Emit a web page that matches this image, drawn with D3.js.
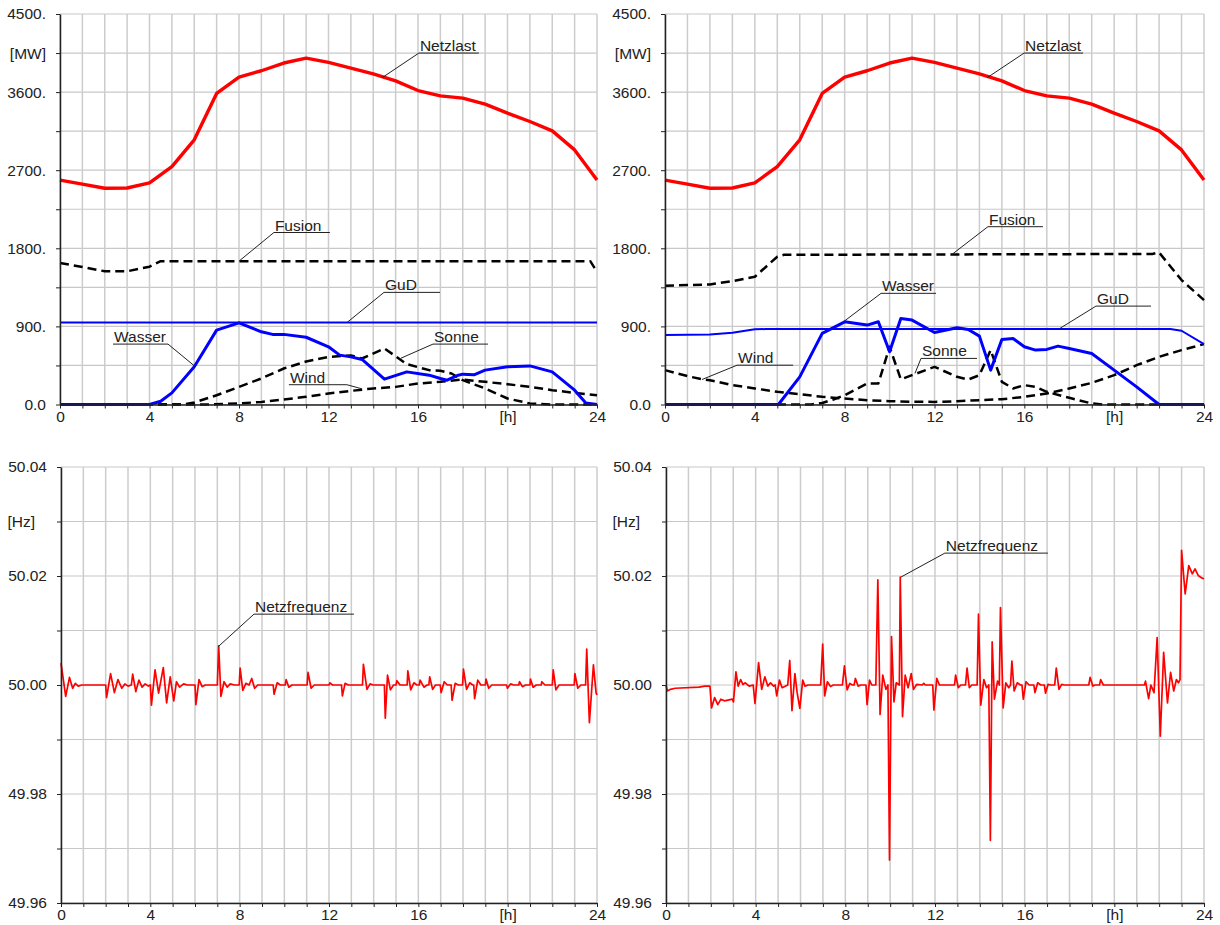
<!DOCTYPE html>
<html>
<head>
<meta charset="utf-8">
<script src="https://cdn.jsdelivr.net/npm/d3@7"></script>
<style>
  body { margin: 0; background: #fff; }
  svg { font-family: "Liberation Sans", Arial, sans-serif; }
</style>
</head>
<body>
<svg id="chart" width="1220" height="925"></svg>
<script>
// ---- data ----
const hours = d3.range(0, 25);
const netzlast = [2585, 2540, 2492, 2495, 2553, 2742, 3050, 3585, 3773, 3846, 3935, 3992, 3942,
                  3877, 3811, 3730, 3618, 3557, 3531, 3461, 3357, 3261, 3153, 2934, 2588];

// left scenario [hour, MW]
const fusionL = [[0,1630],[1,1585],[2,1535],[3,1535],[4,1588],[4.5,1652],[23.7,1652],[24,1530]];
const gudL = [[0,945],[24,945]];
const wasserL = [[0,0],[4,0],[4.5,38],[5,134],[6,434],[7,857],[8,941],[9,838],[9.5,808],[10,808],
  [11,775],[12,665],[12.5,569],[13,549],[13.5,519],[14.5,292],[15.5,376],[16.5,338],[17,300],
  [17.3,280],[17.8,338],[18,350],[18.5,342],[19,396],[20,434],[21,445],[22,376],[23,165],[23.5,18],[24,0]];
const sonneL = [[0,0],[5.5,0],[6,23],[7,107],[8,203],[9,300],[10,415],[11,495],[12,549],[13,565],
  [13.5,530],[14.5,646],[15.5,465],[16.5,396],[17,388],[17.5,357],[18,280],[19,185],[20,69],[21,12],[22,0],[24,0]];
const windL = [[0,0],[6.5,0],[8,12],[9,30],[10,58],[11,88],[12,127],[13,157],[14,185],[15,203],
  [16,242],[17,261],[18,288],[19,261],[20,234],[21,203],[22,165],[23,134],[24,107]];

// right scenario [hour, MW]
const fusionR = [[0,1368],[1,1376],[2,1384],[3,1422],[4,1472],[4.5,1588],[5,1703],[5.3,1725],
  [21.7,1735],[22,1752],[23,1434],[24,1203]];
const gudR = [[0,800],[2,808],[3,826],[4,866],[4.5,870],[22.5,870],[23,850],[24,696]];
const wasserR = [[0,0],[5.05,0],[6,319],[7,819],[8,953],[9,915],[9.5,953],[10,607],[10.5,992],[11,973],
  [12,830],[13,884],[13.5,865],[14,788],[14.5,396],[15,750],[15.5,761],[16,665],[16.5,627],[17,635],
  [17.5,673],[18,646],[19,588],[20,396],[21,203],[22,0],[24,0]];
const sonneR = [[0,0],[6.5,0],[7,18],[7.5,58],[8,107],[9,242],[9.5,242],[10,665],[10.5,290],[11,338],
  [12,434],[13,319],[13.5,288],[14,338],[14.5,627],[15,261],[15.5,185],[16,223],[16.5,203],[17,146],
  [18,77],[19,12],[19.5,0],[24,0]];
const windR = [[0,396],[1,327],[1.7,288],[2,280],[3,223],[4,185],[5,146],[6,119],[7,88],[8,69],[9,50],
  [10,38],[11,32],[12,30],[13,38],[14,50],[15,61],[16,88],[17,127],[18,185],[19,249],[20,338],
  [21,453],[22,549],[23,627],[24,696]];

// grid frequency [hour, Hz]
const freqL = [[0,50.0040],[0.21,49.9979],[0.38,50.0014],[0.52,49.9994],[0.64,50.0003],[0.77,49.9998],[0.94,50],
  [2.0,50],[2.04,49.9977],[2.22,50.0021],[2.39,49.9986],[2.55,50.0010],[2.72,49.9994],[2.86,50.0002],[3.0,49.9998],
  [3.15,50],[3.21,50.0020],[3.35,49.9988],[3.49,50.0009],[3.63,49.9996],[3.77,50.0002],[3.91,49.9998],
  [4.0,50],[4.05,49.9963],[4.21,50.0028],[4.37,49.9985],[4.58,50.0032],[4.73,49.9967],[4.89,50.0015],
  [5.05,49.9971],[5.17,50.0006],[5.31,49.9996],[5.49,50.0002],[5.66,50],
  [6.0,50],[6.04,49.9964],[6.18,50.0010],[6.32,49.9997],[6.46,50],
  [7.0,50],[7.06,50.0072],[7.16,49.9979],[7.30,50.0006],[7.44,49.9996],[7.58,50.0002],[7.76,50],
  [7.98,50],[8.02,50.0031],[8.14,49.9990],[8.28,50.0003],[8.42,50],[8.54,50.0012],[8.67,49.9994],[8.81,50],
  [9.5,50],[9.54,49.9983],[9.68,50.0004],[9.82,50],
  [10.04,50],[10.08,50.0010],[10.2,49.9996],[10.34,50],
  [11.02,50],[11.06,50.0023],[11.2,49.9994],[11.34,50],
  [12.0,50],[12.04,50.0004],[12.16,50],
  [12.56,50],[12.6,49.9980],[12.72,50.0003],[12.86,50],
  [13.5,50],[13.54,50.0038],[13.7,49.9992],[13.84,50.0002],[13.98,50],
  [14.48,50],[14.52,49.9939],[14.62,50.0018],[14.75,49.9991],[14.89,50],
  [15.0,50],[15.04,50.0008],[15.18,50],
  [15.5,50],[15.53,50.0026],[15.66,49.9991],[15.8,50.0004],[15.94,50],
  [16.04,50],[16.08,50.0009],[16.25,49.9996],[16.39,50],
  [16.47,50],[16.51,50.0015],[16.64,49.9992],[16.77,50],
  [16.98,50],[17.02,49.9986],[17.16,50.0006],[17.3,50],
  [17.47,50],[17.51,49.9972],[17.65,50.0003],[17.79,50],
  [17.98,50],[18.02,50.0029],[18.16,49.9992],[18.3,50.0004],[18.44,50],
  [18.48,50],[18.52,49.9975],[18.66,50.0009],[18.8,50],
  [19.0,50],[19.03,50.0011],[19.15,49.9994],[19.29,50],
  [19.95,50],[19.99,49.9994],[20.13,50.0002],[20.27,50],
  [20.5,50],[20.53,50.0006],[20.66,49.9997],[20.8,50],
  [21.0,50],[21.02,50.0011],[21.14,49.9996],[21.28,50],
  [21.5,50],[21.53,50.0006],[21.67,50],
  [22.0,50],[22.04,50.0028],[22.16,49.9991],[22.3,50],
  [22.98,50],[23.01,50.0021],[23.14,49.9994],[23.28,50],[23.49,50],
  [23.54,50.0066],[23.66,49.9931],[23.84,50.0037],[23.96,49.9985],[24,49.9982]];

const freqR = [[0,50],[0.06,49.9989],[0.2,49.9992],[0.41,49.9994],[1.47,49.9996],[1.73,49.9998],[1.96,49.9998],
  [2.03,49.9958],[2.17,49.9977],[2.31,49.9964],[2.45,49.9974],[2.61,49.9971],[2.96,49.9974],[3.01,49.9969],
  [3.12,50.0024],[3.22,49.9998],[3.33,50.0010],[3.43,50.0001],[3.54,50.0004],[3.71,49.9998],[3.89,50],
  [3.97,49.9966],[4.13,50.0041],[4.27,49.9992],[4.41,50.0015],[4.54,49.9998],[4.66,50.0004],[4.8,49.9998],[4.87,50],
  [4.94,49.9980],[5.06,50.0009],[5.18,49.9995],[5.43,50],
  [5.52,50.0045],[5.62,49.9953],[5.75,50.0021],[5.85,49.9986],[5.97,49.9957],[6.1,50.0009],[6.2,49.9998],[6.34,50],
  [6.9,50],[6.99,50.0075],[7.08,49.9980],[7.2,50.0006],[7.34,49.9997],[7.46,50],
  [7.87,50],[7.96,50.0035],[8.08,49.9991],[8.2,50.0003],[8.32,50],
  [8.39,50],[8.45,50.0012],[8.57,49.9998],[8.69,50],
  [8.92,50],[8.97,49.9964],[9.08,50.0009],[9.18,50],[9.36,50],
  [9.45,50.0193],[9.55,49.9946],[9.67,50.0018],[9.81,49.9992],[9.9,50],
  [9.97,49.9679],[10.06,50.0089],[10.17,49.9969],[10.27,50.0004],[10.41,50],
  [10.45,50.0198],[10.55,49.9942],[10.67,50.0018],[10.8,49.9995],[10.94,50.0021],[11.04,49.9992],[11.18,50.0001],
  [11.43,50],[11.5,50.0003],[11.57,50],
  [11.9,50],[11.95,49.9954],[12.08,50.0012],[12.2,50],
  [12.87,50],[12.92,50.0018],[13.04,49.9995],[13.15,50],
  [13.36,50],[13.43,50.0031],[13.53,49.9995],[13.64,50],
  [13.88,50],[13.94,50.0130],[14.04,49.9963],[14.18,50.0010],[14.3,49.9995],[14.4,50],
  [14.47,49.9715],[14.55,50.0079],[14.65,49.9974],[14.79,50.0007],[14.87,50],
  [14.92,50.0142],[15.04,49.9958],[15.16,50.0004],[15.29,49.9995],[15.37,50],
  [15.43,50.0044],[15.53,49.9989],[15.67,50.0004],[15.81,50],
  [15.88,50],[15.94,49.9974],[16.06,50.0006],[16.2,50],
  [16.41,50],[16.46,49.9986],[16.58,50.0004],[16.72,50],
  [16.88,50],[16.93,49.9985],[17.04,50.0001],[17.16,50],
  [17.34,50],[17.41,50.0031],[17.53,49.9992],[17.65,50.0001],[17.78,50],
  [18.86,50],[18.92,50.0014],[19.04,49.9998],[19.14,50],
  [19.34,50],[19.39,50.0010],[19.51,50],[21.34,50],
  [21.39,50.0007],[21.53,49.9975],[21.63,50],[21.77,49.9986],[21.91,50.0087],[22.05,49.9906],[22.2,50.0060],
  [22.37,49.9967],[22.51,50.0023],[22.65,49.9989],[22.77,50.0010],[22.86,50.0004],[22.93,50.0010],
  [23.0,50.0247],[23.16,50.0167],[23.32,50.0219],[23.48,50.0204],[23.6,50.0213],[23.74,50.0201],[23.91,50.0196],[24,50.0195]];

const xTicks = d3.range(0, 25);
const xLabels = {0: "0", 4: "4", 8: "8", 12: "12", 16: "16", 20: "[h]", 24: "24"};
const mwTicks = d3.range(0, 4501, 450);
const hzTicks = [49.96, 49.97, 49.98, 49.99, 50.00, 50.01, 50.02, 50.03, 50.04];

const fmtMW = d => d === 4050 ? "[MW]" : (d % 900 === 0 ? (d === 0 ? "0.0" : d + ".") : "");
const fmtHz = d => {
  const k = Math.round(d * 100);
  if (k === 5003) return "[Hz]";
  return k % 2 === 0 ? d.toFixed(2) : "";
};

// ---- styles ----
const RED = "#ff0000", BLUE = "#0000ff", BLACK = "#000";
const FS = 15.5;
const dashed = { color: BLACK, width: 2.5, dash: "9,5" };

const svg = d3.select("#chart");

function panel(p) {
  const x = d3.scaleLinear().domain([0, 24]).range([p.x0, p.x1]);
  const y = d3.scaleLinear().domain(p.yDomain).range([p.y1, p.y0]);
  const g = svg.append("g");

  // grid
  g.append("g").selectAll("line").data(p.yTicks).join("line")
    .attr("x1", p.x0).attr("x2", p.x1)
    .attr("y1", d => y(d)).attr("y2", d => y(d))
    .attr("stroke", "#c8c8c8").attr("stroke-width", 1.2);
  g.append("g").selectAll("line").data(xTicks).join("line")
    .attr("x1", d => x(d)).attr("x2", d => x(d))
    .attr("y1", p.y0).attr("y2", p.y1)
    .attr("stroke", "#cccccc").attr("stroke-width", 1.5);

  // series
  const line = d3.line().x(d => x(d[0])).y(d => y(d[1]));
  p.series.forEach(s => {
    g.append("path")
      .attr("d", line(s.data))
      .attr("fill", "none")
      .attr("stroke", s.color)
      .attr("stroke-width", s.width)
      .attr("stroke-dasharray", s.dash || null)
      .attr("stroke-linejoin", "round");
  });

  // axes
  const ya = g.append("g")
    .attr("transform", `translate(${p.x0},0)`)
    .call(d3.axisLeft(y).tickValues(p.yTicks).tickSize(4).tickSizeOuter(0).tickPadding(10).tickFormat(p.fmt));
  const xa = g.append("g")
    .attr("transform", `translate(0,${p.y1})`)
    .call(d3.axisBottom(x).tickValues(xTicks).tickSize(4).tickSizeOuter(0).tickPadding(2)
      .tickFormat(d => xLabels[d] || ""));
  [ya, xa].forEach(a => {
    a.attr("font-size", FS).attr("font-family", "Liberation Sans, Arial, sans-serif");
    a.select(".domain").attr("stroke", "#222").attr("stroke-width", 1.5);
    a.selectAll(".tick line").attr("stroke", "#222");
    a.selectAll(".tick text").attr("fill", "#222");
  });
  ya.selectAll(".tick text").filter(d => d === 50.03).attr("dx", -12);

  // labels with leader lines
  p.notes.forEach(n => {
    const ux = x(n.line[0]), uy = y(n.line[1]);
    const ax = n.end ? ux + n.len : ux;
    g.append("line").attr("x1", ux).attr("x2", ux + n.len).attr("y1", uy).attr("y2", uy)
      .attr("stroke", "#222").attr("stroke-width", 1);
    g.append("line").attr("x1", ax).attr("y1", uy).attr("x2", x(n.tip[0])).attr("y2", y(n.tip[1]))
      .attr("stroke", "#222").attr("stroke-width", 1);
    g.append("text").attr("x", ux + 1).attr("y", uy - 2)
      .attr("font-size", FS).attr("fill", "#222").text(n.text);
  });
}

const netz = hours.map((h, i) => [h, netzlast[i]]);

panel({
  x0: 60, x1: 597, y0: 14, y1: 404.5, yDomain: [0, 4500], yTicks: mwTicks, fmt: fmtMW,
  series: [
    { data: fusionL, ...dashed }, { data: windL, ...dashed }, { data: sonneL, ...dashed },
    { data: gudL, color: BLUE, width: 2 }, { data: wasserL, color: BLUE, width: 3 },
    { data: netz, color: RED, width: 3.4 }
  ],
  notes: [
    { text: "Netzlast", line: [16.04, 4050], tip: [14.39, 3765], len: 60 },
    { text: "Fusion", line: [9.56, 1982], tip: [8.0, 1652], len: 56 },
    { text: "GuD", line: [14.48, 1292], tip: [12.83, 945], len: 56 },
    { text: "Sonne", line: [16.67, 696], tip: [15.24, 534], len: 55 },
    { text: "Wasser", line: [2.37, 696], tip: [6.03, 440], len: 55, end: true },
    { text: "Wind", line: [10.23, 228], tip: [13.5, 180], len: 58, end: true }
  ]
});

panel({
  x0: 665, x1: 1204, y0: 14, y1: 404.5, yDomain: [0, 4500], yTicks: mwTicks, fmt: fmtMW,
  series: [
    { data: fusionR, ...dashed }, { data: windR, ...dashed }, { data: sonneR, ...dashed },
    { data: gudR, color: BLUE, width: 2 }, { data: wasserR, color: BLUE, width: 3 },
    { data: netz, color: RED, width: 3.4 }
  ],
  notes: [
    { text: "Netzlast", line: [15.99, 4050], tip: [14.34, 3765], len: 59 },
    { text: "Fusion", line: [14.38, 2049], tip: [12.78, 1730], len: 55 },
    { text: "Wasser", line: [9.62, 1281], tip: [7.93, 950], len: 55 },
    { text: "GuD", line: [19.19, 1134], tip: [17.54, 870], len: 55 },
    { text: "Sonne", line: [11.4, 531], tip: [11.13, 358], len: 56 },
    { text: "Wind", line: [3.21, 453], tip: [1.65, 288], len: 56 }
  ]
});

panel({
  x0: 61, x1: 597, y0: 467, y1: 903, yDomain: [49.96, 50.04], yTicks: hzTicks, fmt: fmtHz,
  series: [{ data: freqL, color: RED, width: 1.7 }],
  notes: [{ text: "Netzfrequenz", line: [8.64, 50.0130], tip: [7.03, 50.0070], len: 100 }]
});

panel({
  x0: 666, x1: 1204, y0: 467, y1: 903, yDomain: [49.96, 50.04], yTicks: hzTicks, fmt: fmtHz,
  series: [{ data: freqR, color: RED, width: 1.7 }],
  notes: [{ text: "Netzfrequenz", line: [12.44, 50.0242], tip: [10.48, 50.0198], len: 103 }]
});
</script>
</body>
</html>
